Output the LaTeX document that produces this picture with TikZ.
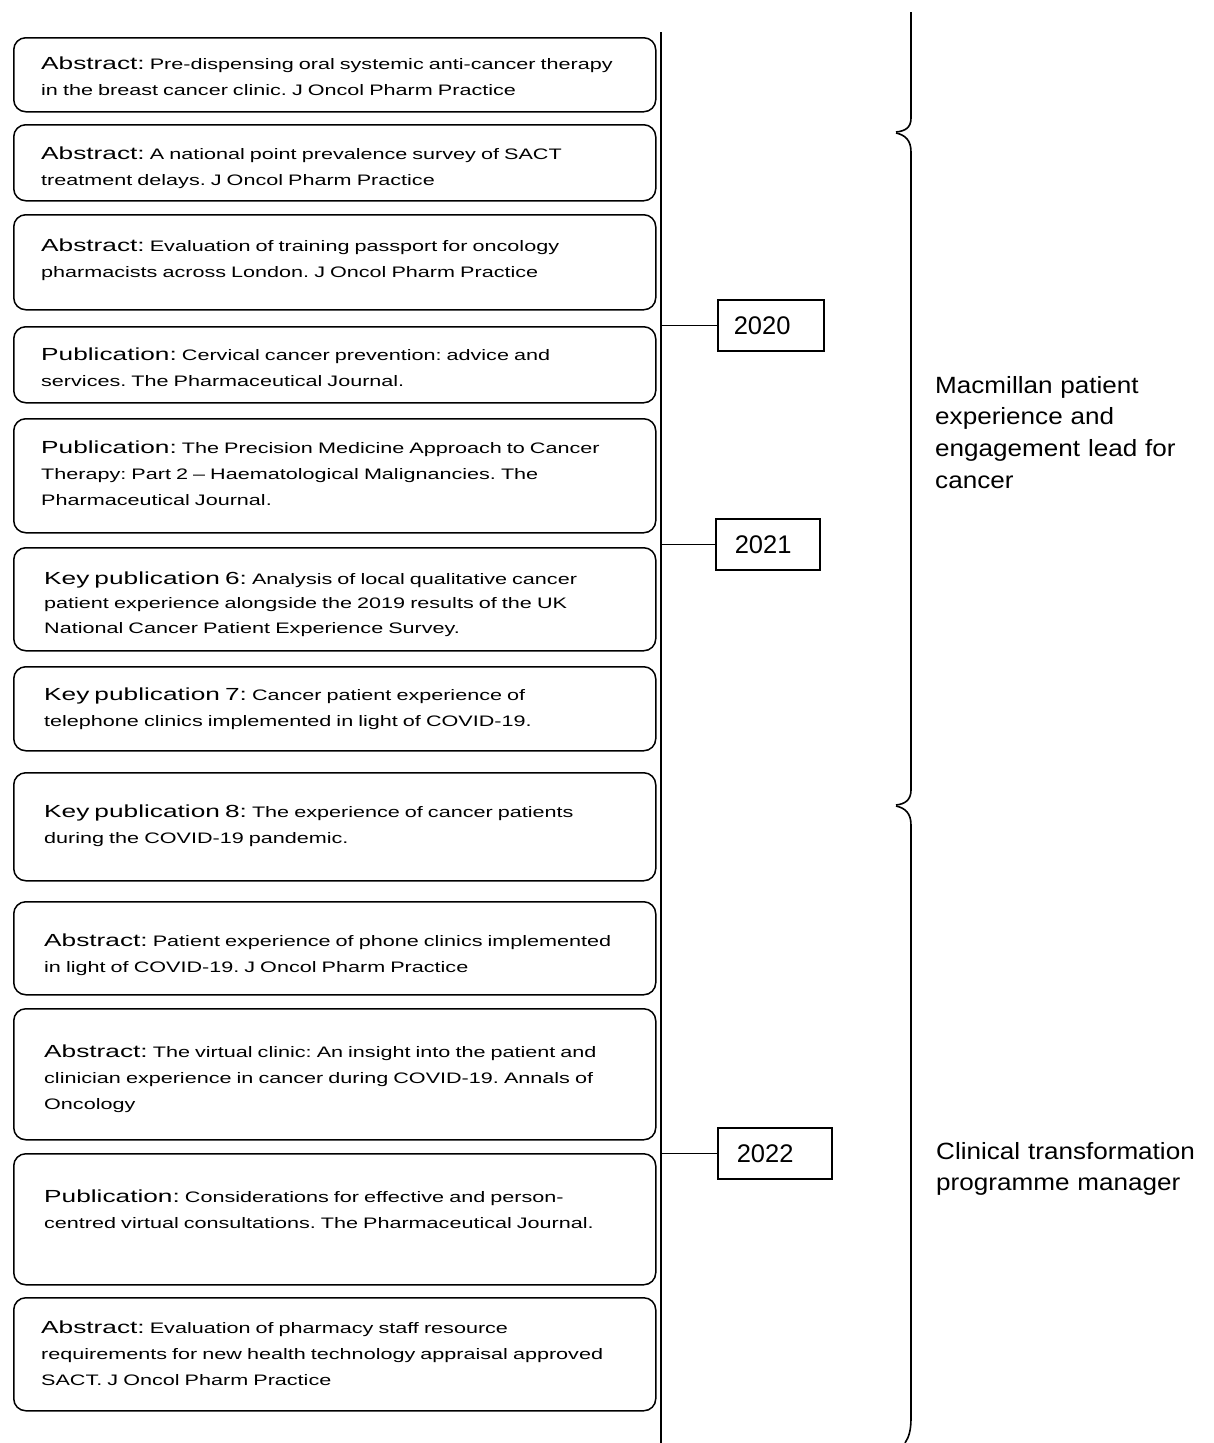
\documentclass[tikz,border=0pt]{standalone}
\usepackage{fontspec}
\setmainfont{Liberation Sans}
\newfontfamily\bodyfnt[FakeStretch=1.42]{Liberation Sans}
\newfontfamily\headfnt[FakeStretch=1.5]{Liberation Sans}
\newfontfamily\lblfnt[FakeStretch=1.11]{Liberation Sans}
\newcommand\pubhead[1]{{\fontsize{17.5}{26}\headfnt #1}}
\newcommand\topstrut{\rule{0pt}{20pt}}
\newcommand\lblstrut{\rule{0pt}{25pt}}
\frenchspacing
\tikzset{
  pubbox/.style={draw=black, line width=1.5pt, rounded corners=12pt, minimum width=642, anchor=north west, inner sep=0pt},
  pubtext/.style={anchor=north west, inner sep=0pt, align=left, text width=612, font=\fontsize{15.2}{26}\bodyfnt\frenchspacing},
  yearbox/.style={draw=black, line width=1.5pt, anchor=north west, inner ysep=0pt, minimum height=51, align=left, font=\fontsize{25.5}{30}\selectfont},
  roletext/.style={anchor=north west, inner sep=0pt, align=left, text width=270, font=\fontsize{23.5}{31.7}\lblfnt},
  axis/.style={draw=black, line width=1.5pt},
  brace/.style={draw=black, line width=1.6pt}
}
\begin{document}
\begin{tikzpicture}[x=1pt, y=-1pt]
\useasboundingbox (0,0) rectangle (1213,1443);

% main timeline
\coordinate (vt) at (661,32);
\coordinate (vb) at (661,1443);
\draw[axis] (vt) -- (vb);

% publication boxes
\node[pubbox, minimum height=74] (b1) at (13,37) {};
\node[pubtext] (t1) at (41,49) {\topstrut\pubhead{Abstract:} Pre-dispensing oral systemic anti-cancer therapy\\in the breast cancer clinic. J Oncol Pharm Practice};

\node[pubbox, minimum height=76] (b2) at (13,124) {};
\node[pubtext] (t2) at (41,139) {\topstrut\pubhead{Abstract:} A national point prevalence survey of SACT\\treatment delays. J Oncol Pharm Practice};

\node[pubbox, minimum height=95] (b3) at (13,214) {};
\node[pubtext] (t3) at (41,231) {\topstrut\pubhead{Abstract:} Evaluation of training passport for oncology\\pharmacists across London. J Oncol Pharm Practice};

\node[pubbox, minimum height=76] (b4) at (13,326) {};
\node[pubtext] (t4) at (41,340) {\topstrut\pubhead{Publication:} Cervical cancer prevention: advice and\\services. The Pharmaceutical Journal.};

\node[pubbox, minimum height=114] (b5) at (13,418) {};
\node[pubtext] (t5) at (41,433) {\topstrut\pubhead{Publication:} The Precision Medicine Approach to Cancer\\Therapy: Part 2 – Haematological Malignancies. The\\Pharmaceutical Journal.};

\node[pubbox, minimum height=103] (b6) at (13,547) {};
\node[pubtext, font=\fontsize{15.2}{24.5}\bodyfnt] (t6) at (44,564) {\topstrut\pubhead{Key publication 6:} Analysis of local qualitative cancer\\patient experience alongside the 2019 results of the UK\\National Cancer Patient Experience Survey.};

\node[pubbox, minimum height=84] (b7) at (13,666) {};
\node[pubtext] (t7) at (44,680) {\topstrut\pubhead{Key publication 7:} Cancer patient experience of\\telephone clinics implemented in light of COVID-19.};

\node[pubbox, minimum height=108] (b8) at (13,772) {};
\node[pubtext] (t8) at (44,797) {\topstrut\pubhead{Key publication 8:} The experience of cancer patients\\during the COVID-19 pandemic.};

\node[pubbox, minimum height=93] (b9) at (13,901) {};
\node[pubtext] (t9) at (44,926) {\topstrut\pubhead{Abstract:} Patient experience of phone clinics implemented\\in light of COVID-19. J Oncol Pharm Practice};

\node[pubbox, minimum height=131] (b10) at (13,1008) {};
\node[pubtext] (t10) at (44,1037) {\topstrut\pubhead{Abstract:} The virtual clinic: An insight into the patient and\\clinician experience in cancer during COVID-19. Annals of\\Oncology};

\node[pubbox, minimum height=131] (b11) at (13,1153) {};
\node[pubtext] (t11) at (44,1182) {\topstrut\pubhead{Publication:} Considerations for effective and person-\\centred virtual consultations. The Pharmaceutical Journal.};

\node[pubbox, minimum height=113] (b12) at (13,1297) {};
\node[pubtext] (t12) at (41,1313) {\topstrut\pubhead{Abstract:} Evaluation of pharmacy staff resource\\requirements for new health technology appraisal approved\\SACT. J Oncol Pharm Practice};

% year boxes and connectors
\node[yearbox, inner xsep=16pt, text width=74] (y20) at (717,299) {2020};
\node[yearbox, inner xsep=19pt, text width=66] (y21) at (715,518) {2021};
\node[yearbox, inner xsep=19pt, text width=76] (y22) at (717,1127) {2022};
\draw[axis] (y20.west) -- (y20.west -| vt);
\draw[axis] (y21.west) -- (y21.west -| vt);
\draw[axis] (y22.west) -- (y22.west -| vt);

% braces
\draw[brace] (911,12) -- (911,118) .. controls (911,128) and (905,131) .. (896,132);
\draw[brace] (896,133) .. controls (905,135) and (911,140) .. (911,152) -- (911,790) .. controls (911,800) and (905,804) .. (896,805);
\draw[brace] (896,806) .. controls (905,808) and (911,813) .. (911,825) -- (911,1418) .. controls (911,1430) and (909,1437) .. (905,1443);

% role labels
\node[roletext] (role1) at (935,368) {\lblstrut Macmillan patient\\experience and\\engagement lead for\\cancer};
\node[roletext] (role2) at (936,1134) {\lblstrut Clinical transformation\\programme manager};
\end{tikzpicture}
\end{document}
